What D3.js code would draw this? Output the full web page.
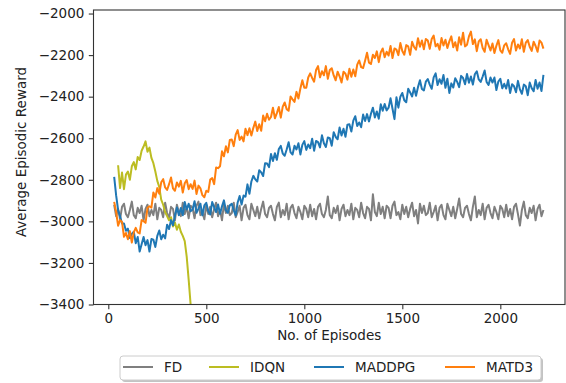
<!DOCTYPE html>
<html>
<head>
<meta charset="utf-8">
<script src="https://cdn.jsdelivr.net/npm/d3@7"></script>
<style>
  body { margin: 0; background: #fff; }
  text { font-family: "DejaVu Sans", sans-serif; fill: #222; }
</style>
</head>
<body>
<div id="chart"></div>
<script>
// episodes sampled every 10 from 30
const episodes = d3.range(30, 2230, 10);

const fd = [
  -2920,-2975,-2940,-2990,-2930,-2915,-2965,-2980,-2945,-2905,-2970,-2985,-2935,-2960,-2925,-2995,-2940,-2920,-2975,-2945,
  -2970,-2915,-2990,-2935,-2945,-2980,-2910,-2960,-2985,-2930,-2940,-2995,-2920,-2955,-2975,-2910,-2965,-2930,-2985,-2925,
  -2935,-2985,-2925,-2905,-2970,-2955,-2990,-2920,-2965,-2930,-2980,-2940,-2910,-2975,-2945,-2995,-2915,-2960,-2925,-2970,
  -2960,-2910,-2980,-2955,-2925,-2995,-2935,-2920,-2970,-2990,-2915,-2945,-2975,-2930,-2985,-2940,-2905,-2965,-2980,-2935,
  -2925,-2965,-2995,-2930,-2910,-2980,-2945,-2970,-2915,-2990,-2935,-2920,-2960,-2985,-2930,-2955,-2990,-2925,-2940,-2980,
  -2920,-2975,-2940,-2990,-2930,-2915,-2965,-2980,-2945,-2880,-2970,-2985,-2935,-2960,-2925,-2995,-2940,-2920,-2975,-2945,
  -2970,-2915,-2990,-2935,-2945,-2980,-2910,-2960,-2985,-2930,-2940,-2995,-2870,-2955,-2975,-2910,-2965,-2930,-2985,-2925,
  -2935,-2985,-2925,-2905,-2970,-2955,-2990,-2920,-2965,-2930,-2980,-2940,-2910,-2975,-2945,-3010,-2915,-2960,-2925,-2970,
  -2960,-2910,-2980,-2955,-2925,-2995,-2935,-2920,-2970,-2990,-2915,-2945,-2975,-2930,-2985,-2940,-2890,-2965,-2980,-2935,
  -2925,-2965,-2995,-2930,-2880,-2980,-2945,-2970,-2915,-2990,-2935,-2920,-2960,-2985,-2930,-2955,-2990,-2925,-2940,-2980,
  -2920,-2975,-2940,-2990,-2930,-2915,-2965,-3020,-2945,-2905,-2970,-2985,-2935,-2960,-2925,-2995,-2940,-2920,-2975,-2945
];

const maddpg = [
  -2786,-2875,-2945,-2975,-3010,-3010,-3045,-3035,-3080,-3060,-3050,-3105,-3075,-3145,-3110,-3075,-3115,-3090,-3145,-3085,
  -3088,-3123,-3070,-3044,-3086,-3064,-3082,-3016,-3037,-2994,-3019,-2972,-2933,-2970,-2936,-2971,-2907,-2943,-2915,-2951,
  -2943,-2903,-2959,-2939,-2915,-2971,-2923,-2911,-2951,-2967,-2907,-2931,-2955,-2919,-2963,-2927,-2899,-2947,-2959,-2923,
  -2915,-2947,-2971,-2909,-2878,-2919,-2876,-2881,-2822,-2867,-2808,-2781,-2798,-2808,-2754,-2764,-2782,-2720,-2722,-2739,
  -2676,-2710,-2672,-2704,-2652,-2637,-2674,-2684,-2654,-2619,-2668,-2678,-2636,-2654,-2624,-2678,-2632,-2614,-2656,-2630,
  -2648,-2602,-2660,-2613,-2619,-2644,-2586,-2624,-2642,-2596,-2600,-2636,-2571,-2594,-2605,-2548,-2587,-2554,-2593,-2535,
  -2533,-2568,-2515,-2494,-2541,-2524,-2547,-2486,-2517,-2484,-2519,-2482,-2453,-2500,-2471,-2506,-2437,-2468,-2435,-2466,
  -2453,-2408,-2458,-2508,-2403,-2453,-2400,-2382,-2417,-2427,-2362,-2380,-2399,-2357,-2396,-2354,-2321,-2363,-2370,-2328,
  -2315,-2342,-2362,-2307,-2288,-2344,-2316,-2338,-2296,-2357,-2314,-2382,-2336,-2356,-2311,-2329,-2354,-2300,-2310,-2340,
  -2291,-2333,-2303,-2342,-2292,-2278,-2317,-2329,-2303,-2274,-2329,-2344,-2308,-2332,-2308,-2368,-2327,-2314,-2360,-2338,
  -2361,-2320,-2382,-2340,-2350,-2379,-2324,-2365,-2386,-2342,-2350,-2393,-2332,-2359,-2374,-2320,-2362,-2332,-2373,-2295
];

const matd3 = [
  -2906,-2955,-3021,-2994,-3003,-3074,-3056,-3086,-3047,-3102,-3053,-3031,-3053,-3058,-2994,-2999,-3007,-2935,-2927,-2934,
  -2861,-2885,-2840,-2867,-2812,-2797,-2837,-2849,-2821,-2789,-2841,-2853,-2813,-2833,-2805,-2861,-2817,-2801,-2845,-2821,
  -2844,-2804,-2868,-2828,-2841,-2874,-2884,-2853,-2858,-2799,-2792,-2821,-2741,-2744,-2735,-2663,-2687,-2639,-2668,-2608,
  -2606,-2638,-2583,-2561,-2608,-2592,-2615,-2554,-2585,-2552,-2587,-2550,-2520,-2565,-2533,-2564,-2491,-2518,-2482,-2511,
  -2498,-2453,-2504,-2479,-2450,-2501,-2448,-2428,-2460,-2468,-2399,-2413,-2425,-2377,-2409,-2361,-2321,-2357,-2357,-2308,
  -2288,-2310,-2328,-2272,-2253,-2307,-2278,-2297,-2253,-2314,-2272,-2263,-2298,-2321,-2280,-2302,-2332,-2280,-2290,-2318,
  -2266,-2304,-2269,-2302,-2246,-2226,-2258,-2262,-2227,-2189,-2236,-2243,-2198,-2214,-2182,-2234,-2187,-2168,-2210,-2184,
  -2202,-2156,-2214,-2168,-2174,-2200,-2142,-2180,-2198,-2152,-2158,-2199,-2136,-2161,-2174,-2119,-2160,-2130,-2172,-2122,
  -2130,-2170,-2122,-2106,-2158,-2146,-2174,-2118,-2154,-2126,-2166,-2134,-2110,-2162,-2138,-2178,-2114,-2150,-2092,-2158,
  -2150,-2110,-2087,-2147,-2124,-2181,-2134,-2124,-2166,-2184,-2126,-2152,-2178,-2144,-2190,-2155,-2128,-2177,-2189,-2153,
  -2143,-2172,-2194,-2140,-2123,-2178,-2149,-2168,-2124,-2184,-2140,-2128,-2160,-2180,-2136,-2156,-2184,-2130,-2140,-2169
];

// IDQN only runs from episode 50 to 430
const idqnEpisodes = d3.range(50, 440, 10);
const idqn = [
  -2730,-2840,-2765,-2845,-2775,-2760,-2800,-2735,-2715,-2750,-2690,-2705,-2660,-2640,-2615,-2665,-2645,-2695,-2720,-2760,
  -2805,-2835,-2895,-2920,-2955,-2975,-2995,-2980,-3025,-3005,-3040,-3015,-3050,-3070,-3095,-3170,-3280,-3400,-3500
];

const seriesNames = ["FD", "IDQN", "MADDPG", "MATD3"];
const seriesColors = ["#7f7f7f", "#bcbd22", "#1f77b4", "#ff7f0e"];
const xTicks = [0, 500, 1000, 1500, 2000];
const yTicks = [-3400, -3200, -3000, -2800, -2600, -2400, -2200, -2000];

const width = 566, height = 383;
const margin = { left: 93.5, right: 565, top: 10, bottom: 304.5 };

const svg = d3.select("#chart").append("svg")
  .attr("width", width)
  .attr("height", height);

const x = d3.scaleLinear().domain([-75.5, 2330]).range([margin.left, margin.right]);
const y = d3.scaleLinear().domain([-3400, -1983]).range([margin.bottom, margin.top]);

svg.append("clipPath").attr("id", "plot")
  .append("rect")
  .attr("x", margin.left).attr("y", margin.top)
  .attr("width", margin.right - margin.left).attr("height", margin.bottom - margin.top);

const series = [
  { xs: episodes, ys: fd },
  { xs: idqnEpisodes, ys: idqn },
  { xs: episodes, ys: maddpg },
  { xs: episodes, ys: matd3 }
];

const line = d3.line()
  .x(d => x(d[0]))
  .y(d => y(d[1]));

const g = svg.append("g").attr("clip-path", "url(#plot)");
series.forEach((s, i) => {
  g.append("path")
    .datum(s.xs.map((e, j) => [e, s.ys[j]]))
    .attr("fill", "none")
    .attr("stroke", seriesColors[i])
    .attr("stroke-width", 2)
    .attr("stroke-linejoin", "round")
    .attr("d", line);
});

// axes
const xAxis = svg.append("g")
  .attr("transform", `translate(0, ${margin.bottom})`)
  .call(d3.axisBottom(x).tickValues(xTicks).tickSize(4.7).tickPadding(4.5).tickFormat(d3.format("d")));

const yAxis = svg.append("g")
  .attr("transform", `translate(${margin.left}, 0)`)
  .call(d3.axisLeft(y).tickValues(yTicks).tickSize(4.7).tickPadding(4.5)
    .tickFormat(d => d3.format("d")(d).replace("-", "\u2212")));

[xAxis, yAxis].forEach(a => {
  a.select(".domain").remove();
  a.selectAll(".tick line").attr("stroke", "#333").attr("stroke-width", 1.1);
  a.selectAll(".tick text").attr("font-size", 13.5).attr("fill", "#222")
    .attr("font-family", "DejaVu Sans, sans-serif");
});

// frame
svg.append("rect")
  .attr("x", margin.left).attr("y", margin.top)
  .attr("width", margin.right - margin.left).attr("height", margin.bottom - margin.top)
  .attr("fill", "none")
  .attr("stroke", "#333")
  .attr("stroke-width", 1.1);

svg.append("text")
  .attr("x", (margin.left + margin.right) / 2)
  .attr("y", 340)
  .attr("text-anchor", "middle")
  .attr("font-size", 13.5)
  .text("No. of Episodes");

svg.append("text")
  .attr("transform", `translate(26, 152) rotate(-90)`)
  .attr("text-anchor", "middle")
  .attr("font-size", 13.5)
  .text("Average Episodic Reward");

// legend
const legend = svg.append("g");
legend.append("rect")
  .attr("x", 122).attr("y", 358)
  .attr("width", 421).attr("height", 24)
  .attr("rx", 3)
  .attr("fill", "#888").attr("opacity", 0.5);
legend.append("rect")
  .attr("x", 120).attr("y", 356)
  .attr("width", 421).attr("height", 24)
  .attr("rx", 3)
  .attr("fill", "#fff").attr("stroke", "#ccc").attr("stroke-width", 1);

const legendX = [123, 209, 314, 445];
seriesNames.forEach((name, i) => {
  legend.append("line")
    .attr("x1", legendX[i]).attr("x2", legendX[i] + 30)
    .attr("y1", 367).attr("y2", 367)
    .attr("stroke", seriesColors[i]).attr("stroke-width", 2);
  legend.append("text")
    .attr("x", legendX[i] + 41)
    .attr("y", 372)
    .attr("font-size", 13.5)
    .text(name);
});
</script>
</body>
</html>
